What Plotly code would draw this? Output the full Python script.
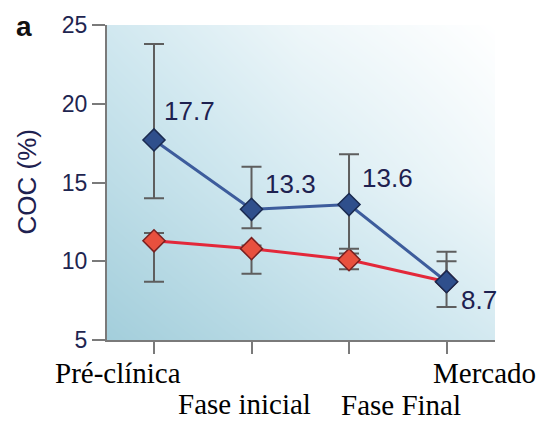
import plotly.graph_objects as go

categories = ["Pré-clínica", "Fase inicial", "Fase Final", "Mercado"]
blue_values = [17.7, 13.3, 13.6, 8.7]
blue_err_plus = [6.1, 2.7, 3.2, 1.9]
blue_err_minus = [3.7, 1.2, 2.8, 1.6]
red_values = [11.3, 10.8, 10.1, 8.7]
red_err_plus = [0.5, 0.2, 0.4, 1.3]
red_err_minus = [2.6, 1.6, 0.6, 0.0]
blue_labels = ["17.7", "13.3", "13.6", "8.7"]
y_ticks = [5, 10, 15, 20, 25]

xpos = list(range(len(categories)))
x_range = [-0.482, 3.497]
y_range = [5, 25]

# background gradient (decoration)
bg_z = [[0.0, 0.28, 0.55],
        [0.28, 0.58, 0.85],
        [0.52, 0.82, 1.0]]

fig = go.Figure()
fig.add_trace(go.Heatmap(
    x=[x_range[0], sum(x_range) / 2, x_range[1]],
    y=[y_range[0], sum(y_range) / 2, y_range[1]],
    z=bg_z, zsmooth="best", showscale=False, hoverinfo="skip",
    colorscale=[[0, "#a3cedb"], [0.5, "#cfe7ef"], [1, "#ffffff"]],
))

err_style = dict(type="data", symmetric=False, color="#5e5e5e", thickness=2, width=10)

fig.add_trace(go.Scatter(
    x=xpos, y=red_values, mode="lines+markers",
    line=dict(color="#e3283a", width=3),
    marker=dict(symbol="diamond", size=17, color="#e8503e",
                line=dict(color="#7a2020", width=1.5)),
    error_y=dict(array=red_err_plus, arrayminus=red_err_minus, **err_style),
    showlegend=False, hoverinfo="skip",
))
fig.add_trace(go.Scatter(
    x=xpos, y=blue_values, mode="lines+markers",
    line=dict(color="#3d5c9c", width=3),
    marker=dict(symbol="diamond", size=17, color="#2f4f8c",
                line=dict(color="#1a2a50", width=1.5)),
    error_y=dict(array=blue_err_plus, arrayminus=blue_err_minus, **err_style),
    showlegend=False, hoverinfo="skip",
))

label_font = dict(family="Liberation Sans, Arial, sans-serif", size=26, color="#1e2150")
label_offsets = [(8, 29), (11, 25), (11, 27), (12, -18)]
for i, (dx, dy) in enumerate(label_offsets):
    fig.add_annotation(x=xpos[i], y=blue_values[i], text=blue_labels[i],
                       showarrow=False, xanchor="left", yanchor="middle",
                       xshift=dx, yshift=dy, font=label_font)

cat_font = dict(family="Liberation Serif, Times New Roman, serif", size=29, color="#000000")
cat_offsets = [(-36, -33), (-7, -64), (52, -65), (38, -33)]
for i, (dx, dy) in enumerate(cat_offsets):
    fig.add_annotation(x=xpos[i], y=0, yref="paper", text=categories[i],
                       showarrow=False, xanchor="center", yanchor="middle",
                       xshift=dx, yshift=dy, font=cat_font)

fig.add_annotation(x=0, xref="paper", y=0.5, yref="paper", text="COC (%)",
                   showarrow=False, textangle=-90, xanchor="center", yanchor="middle",
                   xshift=-81,
                   font=dict(family="Liberation Sans, Arial, sans-serif", size=26, color="#1e2150"))

fig.add_annotation(x=0, xref="paper", y=1, yref="paper", text="<b>a</b>",
                   showarrow=False, xanchor="center", yanchor="middle",
                   xshift=-83, yshift=-1,
                   font=dict(family="Liberation Sans, Arial, sans-serif", size=28, color="#111111"))

axis_line = dict(showline=True, linecolor="#7a7a7a", linewidth=2, ticks="outside",
                 tickcolor="#7a7a7a", tickwidth=2, showgrid=False, zeroline=False)

fig.update_layout(
    width=546, height=423,
    margin=dict(l=107, r=51, t=19, b=83),
    paper_bgcolor="white", plot_bgcolor="white",
    xaxis=dict(range=x_range, tickvals=xpos, showticklabels=False, ticklen=12, **axis_line),
    yaxis=dict(range=y_range, tickvals=y_ticks, ticklen=13,
               tickfont=dict(family="Liberation Sans, Arial, sans-serif", size=23, color="#1e2550"),
               **axis_line),
)

fig.write_html("out.html", config={"displayModeBar": False},
               post_script="document.body.style.margin='0';document.body.style.overflow='hidden';")
